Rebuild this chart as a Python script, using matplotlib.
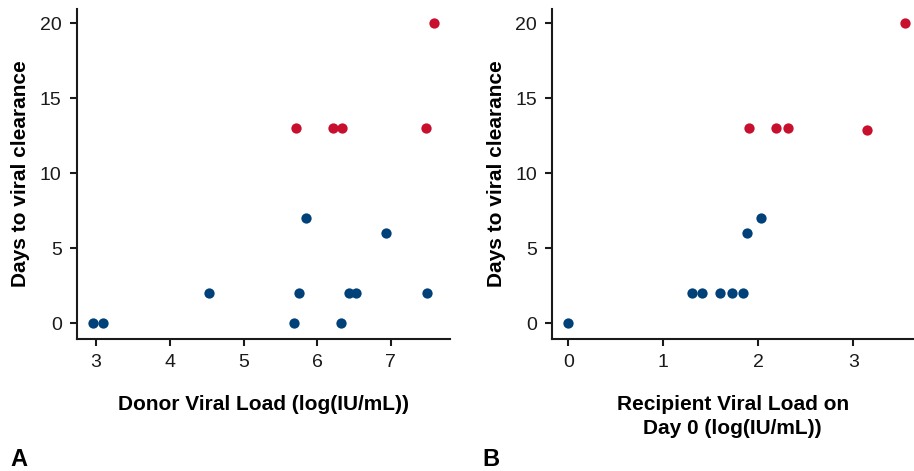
import numpy as np
import matplotlib
matplotlib.use("Agg")
from matplotlib import pyplot as plt

plt.rcParams["font.family"] = ["Liberation Sans", "DejaVu Sans"]

RED = "#c8102e"
BLUE = "#00417a"

# Panel A: donor viral load vs days to clearance
donor_blue_x = [2.96, 3.09, 4.53, 5.68, 5.75, 5.85, 6.32, 6.43, 6.52, 6.93, 7.49]
donor_blue_y = [0, 0, 2, 0, 2, 7, 0, 2, 2, 6, 2]
donor_red_x = [5.71, 6.21, 6.34, 7.47, 7.58]
donor_red_y = [13, 13, 13, 13, 20]

# Panel B: recipient viral load on day 0 vs days to clearance
recip_blue_x = [0.0, 1.30, 1.41, 1.60, 1.72, 1.84, 1.88, 2.03]
recip_blue_y = [0, 2, 2, 2, 2, 2, 6, 7]
recip_red_x = [1.90, 2.19, 2.31, 3.14, 3.55]
recip_red_y = [13, 13, 13, 12.9, 20]


def style_axes(ax):
    for side in ["top", "right"]:
        ax.spines[side].set_visible(False)
    for side in ["left", "bottom"]:
        ax.spines[side].set_linewidth(1.5)
        ax.spines[side].set_color("#1a1a1a")
    ax.tick_params(direction="out", length=5, width=1.5, colors="#1a1a1a",
                   labelsize=14, pad=6)
    ax.set_yticks([0, 5, 10, 15, 20])
    ax.set_ylim(-1.05, 20.95)
    ax.set_ylabel("Days to viral clearance", fontsize=15, fontweight="bold")


fig = plt.figure(figsize=(9.14, 4.71), dpi=100)
ax1 = fig.add_axes([0.0842, 0.280, 0.408, 0.701])
ax2 = fig.add_axes([0.604, 0.280, 0.395, 0.701])

ms = 55
ax1.scatter(donor_blue_x, donor_blue_y, s=ms, color=BLUE, zorder=3, linewidths=0)
ax1.scatter(donor_red_x, donor_red_y, s=ms, color=RED, zorder=3, linewidths=0)
ax1.set_xlim(2.74, 7.80)
ax1.set_xticks([3, 4, 5, 6, 7])
style_axes(ax1)
ax1.yaxis.set_label_coords(-0.127, 0.5)
ax1.set_xlabel("Donor Viral Load (log(IU/mL))", fontsize=15, fontweight="bold")
ax1.xaxis.set_label_coords(0.5, -0.17)

ax2.scatter(recip_blue_x, recip_blue_y, s=ms, color=BLUE, zorder=3, linewidths=0,
            clip_on=False)
ax2.scatter(recip_red_x, recip_red_y, s=ms, color=RED, zorder=3, linewidths=0,
            clip_on=False)
ax2.set_xlim(-0.171, 3.63)
ax2.set_xticks([0, 1, 2, 3])
style_axes(ax2)
ax2.yaxis.set_label_coords(-0.128, 0.5)
ax2.set_xlabel("Recipient Viral Load on\nDay 0 (log(IU/mL))", fontsize=15,
               fontweight="bold", linespacing=1.3)
ax2.xaxis.set_label_coords(0.5, -0.17)

fig.text(0.011, 0.0, "A", fontsize=17, fontweight="bold", va="bottom")
fig.text(0.528, 0.0, "B", fontsize=17, fontweight="bold", va="bottom")

plt.savefig("out.png", dpi=100)
plt.close()
